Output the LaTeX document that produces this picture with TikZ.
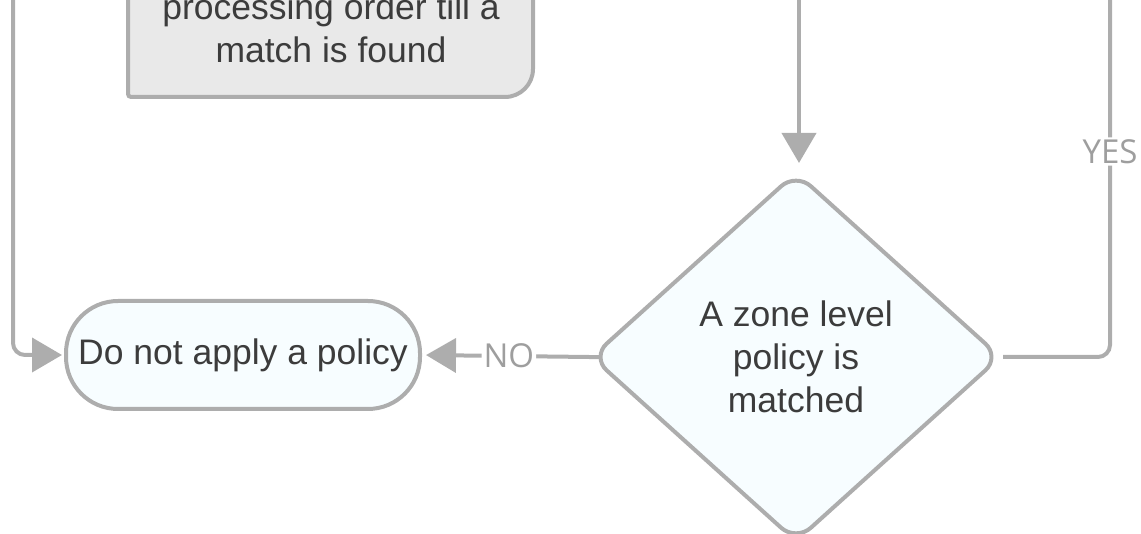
\documentclass[tikz,border=0pt]{standalone}
\usepackage{fontspec}
\setmainfont{Liberation Sans}
\newfontfamily\lblfont{Open Sans}
\usetikzlibrary{shapes.geometric,arrows.meta}
\pgfdeclarelayer{background}
\pgfsetlayers{background,main}
\definecolor{edge}{HTML}{ADADAD}
\definecolor{txt}{HTML}{3C3C3C}
\definecolor{procfill}{HTML}{E9E9E9}
\definecolor{lightfill}{HTML}{F7FDFF}
\definecolor{lbl}{HTML}{9E9E9E}
\begin{document}
\begin{tikzpicture}[x=1pt,y=-1pt,
  conn/.style={draw=edge, line width=4pt, rounded corners=12pt},
  arr/.style={-{Triangle[length=30pt,width=34pt]}},
  lab/.style={font=\lblfont\fontsize{33}{33}\selectfont, text=lbl, fill=white, inner sep=2pt},
  maintext/.style={text=txt, font=\fontsize{35.5}{43}\selectfont, align=center},
  termbox/.style={maintext, draw=edge, line width=4pt, fill=lightfill, rounded corners=52pt,
    minimum width=354pt, minimum height=108pt, inner sep=0pt},
  decision/.style={maintext, diamond, draw=edge, line width=4pt, fill=lightfill, rounded corners=20pt,
    minimum width=410pt, minimum height=370pt, inner sep=0pt},
  procbox/.style={draw=edge, line width=4pt, fill=procfill}
]
\useasboundingbox (0,0) rectangle (1141,534);
\clip (0,0) rectangle (1141,534);

% process box (cut at the top)
\draw[procbox] (128,-120) [rounded corners=3pt] -- (128,97) [rounded corners=28pt] -- (533,97) [rounded corners=0pt] -- (533,-120) -- cycle;
\node[maintext] (proc) at (331,28.5) {processing order till a\\match is found};

\node[termbox] (noapply) at (243,355) {Do not apply a policy};
\node[decision] (zone) at (796,357) {A zone level\\policy is\\matched};

\coordinate (lefttop) at (13,-10);
\coordinate (downtop) at (799,-10);
\coordinate (yestop) at (1110,-10);

\draw[conn,arr,shorten >=2pt] (lefttop) |- (noapply.west);
\draw[conn,arr,shorten >=7pt] (downtop) -- (downtop |- zone.north);
\begin{pgfonlayer}{background}
\draw[conn,arr,shorten <=-16pt,shorten >=4pt] (zone.west) -- node[lab,pos=0.48]{NO} (noapply.east);
\end{pgfonlayer}
\draw[conn] (zone.east) -| node[lab,pos=0.78]{YES} (yestop);
\end{tikzpicture}
\end{document}
